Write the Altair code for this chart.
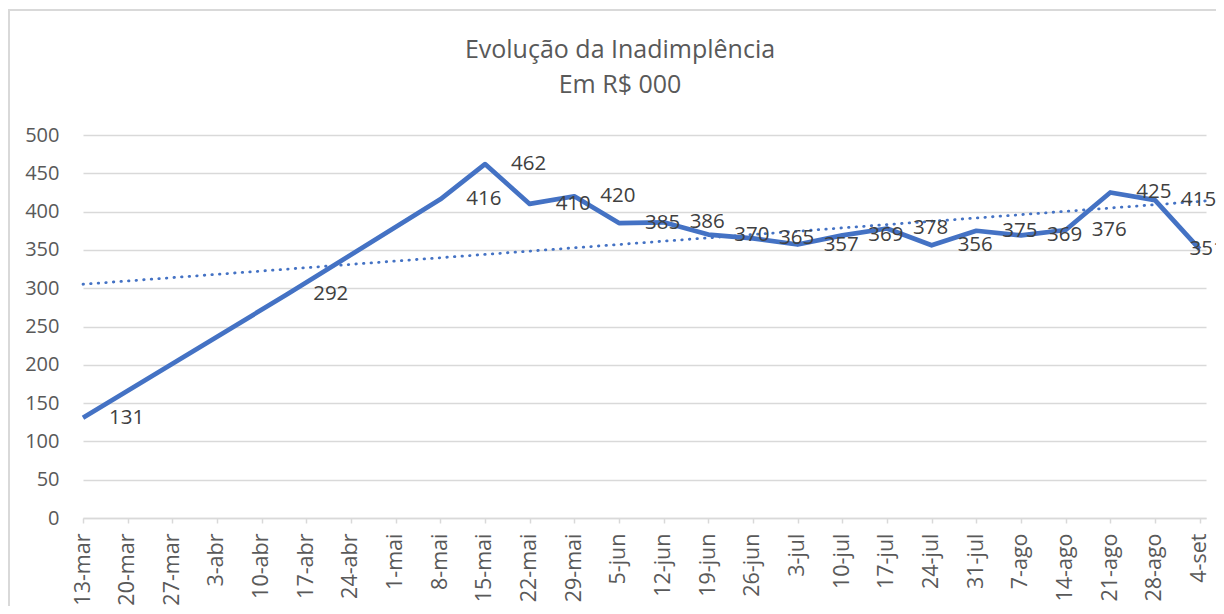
import json
import altair as alt
import pandas as pd

# ---- data ----
dates = ["2020-03-13", "2020-04-14", "2020-05-08", "2020-05-15", "2020-05-22",
         "2020-05-29", "2020-06-05", "2020-06-12", "2020-06-19", "2020-06-26",
         "2020-07-03", "2020-07-10", "2020-07-17", "2020-07-24", "2020-07-31",
         "2020-08-07", "2020-08-14", "2020-08-21", "2020-08-28", "2020-09-04"]
values = [131, 292, 416, 462, 410, 420, 385, 386, 370, 365,
          357, 369, 378, 356, 375, 369, 376, 425, 415, 351]
tick_labels = ["13-mar", "20-mar", "27-mar", "3-abr", "10-abr", "17-abr", "24-abr",
               "1-mai", "8-mai", "15-mai", "22-mai", "29-mai", "5-jun", "12-jun",
               "19-jun", "26-jun", "3-jul", "10-jul", "17-jul", "24-jul", "31-jul",
               "7-ago", "14-ago", "21-ago", "28-ago", "4-set"]
y_ticks = [0, 50, 100, 150, 200, 250, 300, 350, 400, 450, 500]
title_lines = ["Evolução da Inadimplência", "Em R$ 000"]

start = pd.Timestamp(dates[0])
df = pd.DataFrame({"date": dates, "value": values})
df["day"] = (pd.to_datetime(df["date"]) - start).dt.days
last_day = int(df["day"].max())
tick_days = [7 * i for i in range(len(tick_labels))]

BLUE = "#4472C4"
GRID = "#d9d9d9"
FONT = "Open Sans"

x_scale = alt.Scale(domain=[0, last_day + 1], nice=False, zero=False)
y_scale = alt.Scale(domain=[0, 500], nice=False)

x_axis = alt.Axis(
    values=tick_days,
    labelExpr=json.dumps(tick_labels) + "[round(datum.value / 7)]",
    labelAngle=-90, labelAlign="right", labelBaseline="middle",
    labelFont=FONT, labelFontSize=21.5, labelColor="#595959", labelPadding=10,
    ticks=True, tickSize=5, tickColor=GRID, tickWidth=1.5,
    domain=True, domainColor=GRID, domainWidth=1.5,
    grid=False, title=None, labelOverlap=False, labelBound=False,
)
y_axis = alt.Axis(
    values=y_ticks, tickCount=len(y_ticks), labelFont=FONT, labelFontSize=20,
    labelColor="#595959", labelPadding=24, ticks=False, domain=False,
    labelOverlap=False, grid=True, gridColor=GRID, gridWidth=1.5, title=None,
)

X = alt.X("day:Q", scale=x_scale, axis=x_axis)
Y = alt.Y("value:Q", scale=y_scale, axis=y_axis)

base = alt.Chart(df)

line = base.mark_line(color=BLUE, strokeWidth=4.7, strokeJoin="round").encode(x=X, y=Y)

trend = base.transform_regression(
    "day", "value", extent=[0, last_day + 1]
).mark_line(color=BLUE, strokeWidth=2.8, strokeDash=[0.5, 7.1], strokeCap="round").encode(
    x=X, y=Y
)

labels = base.transform_filter(f"datum.day < {last_day}").mark_text(
    align="left", baseline="middle", dx=26, font=FONT, fontSize=20.5, color="#404040"
).encode(x=X, y=Y, text=alt.Text("value:Q"))

last_label = base.transform_filter(f"datum.day == {last_day}").mark_text(
    align="left", baseline="middle", dx=-10, font=FONT, fontSize=20.5, color="#404040"
).encode(x=X, y=Y, text=alt.Text("value:Q"))

one = pd.DataFrame({"k": [0]})
title_layers = [
    alt.Chart(one).mark_text(
        text=txt, align="center", baseline="alphabetic",
        font=FONT, fontSize=25, color="#595959"
    ).encode(x=alt.value(537), y=alt.value(-77 + 35 * i))
    for i, txt in enumerate(title_lines)
]

border = alt.Chart(one).mark_rect(
    filled=False, stroke=GRID, strokeWidth=2
).encode(
    x=alt.value(-74), x2=alt.value(3000), y=alt.value(-125), y2=alt.value(3000)
)

chart = alt.layer(line, border, trend, labels, last_label, *title_layers).properties(
    width=1123, height=383,
    autosize=alt.AutoSizeParams(type="none"),
    padding={"left": 75, "top": 127, "right": 10, "bottom": 88},
).configure_view(stroke=None)

chart.save("out.html", embed_options={"renderer": "svg", "actions": False})
